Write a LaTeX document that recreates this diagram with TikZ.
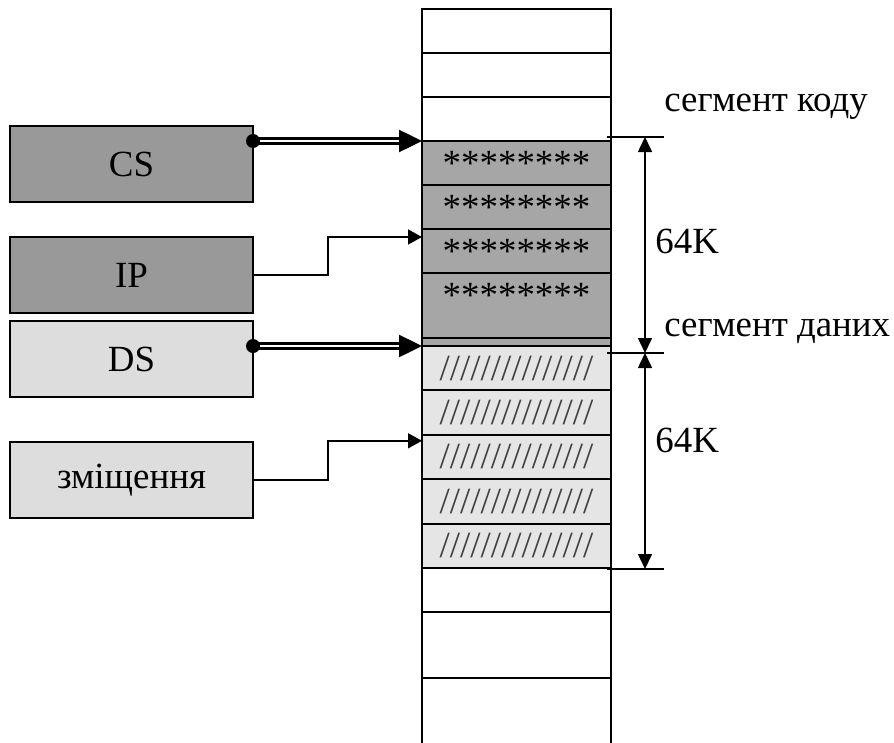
\documentclass[tikz,border=0pt]{standalone}
\usepackage{fontspec}
\setmainfont{Liberation Serif}
\usetikzlibrary{positioning, arrows.meta, calc}
\definecolor{codegray}{RGB}{166,166,166}
\definecolor{csgray}{RGB}{153,153,153}
\definecolor{datagray}{RGB}{229,229,229}
\definecolor{dsgray}{RGB}{221,221,221}
\tikzset{
  cell/.style={rectangle, draw, line width=1.2pt, minimum width=3.78cm,
    minimum height=0.88cm, inner sep=0pt, outer sep=0pt},
  codecell/.style={cell, fill=codegray},
  datacell/.style={cell, fill=datagray, minimum height=0.888cm, text=black!75},
  reg/.style={rectangle, draw, line width=1pt, minimum width=4.86cm,
    minimum height=1.52cm, inner sep=0pt, outer sep=0pt},
  segreg/.style={reg, fill=csgray},
  offreg/.style={reg, fill=dsgray},
  dblarrow/.style={double, double distance=1.2pt, line width=1.4pt,
    -{Triangle[length=0.46cm, width=0.44cm]}},
  thinarrow/.style={line width=0.9pt, -{Triangle[length=0.28cm, width=0.3cm]}},
  dimarrow/.style={line width=0.9pt,
    {Triangle[length=0.3cm, width=0.28cm]}-{Triangle[length=0.3cm, width=0.28cm]}},
  dimtick/.style={line width=0.9pt},
}

\begin{document}
\begin{tikzpicture}[font=\fontsize{21}{25}\selectfont]
  \useasboundingbox (0,0) rectangle (17.88,-14.84);

  % memory column
  \node[cell, anchor=north west] (m1) at (8.44,-0.18) {};
  \foreach \i [count=\j from 2] in {1,2}
    \node[cell, below=0pt of m\i] (m\j) {};
  \node[codecell, below=0pt of m3] (code1) {********};
  \node[codecell, below=0pt of code1] (code2) {********};
  \node[codecell, below=0pt of code2] (code3) {********};
  \node[codecell, minimum height=1.30cm, below=0pt of code3,
        label={[anchor=north, inner sep=0pt, yshift=-0.2cm]north:********}] (code4) {};
  \node[codecell, minimum height=0.16cm, below=0pt of code4] (gap) {};
  \node[datacell, below=0pt of gap] (data1) {///////////////};
  \foreach \i [count=\j from 2] in {1,...,4}
    \node[datacell, below=0pt of data\i] (data\j) {///////////////};
  \node[cell, below=0pt of data5] (m4) {};
  \node[cell, minimum height=1.32cm, below=0pt of m4] (m5) {};
  \draw[line width=1.2pt] (m5.south west) -- ++(0,-1.3)
                          (m5.south east) -- ++(0,-1.3);

  % registers
  \node[segreg] (cs) at (2.63,-3.28) {CS};
  \node[segreg, below=0.7cm of cs] (ip) {IP};
  \node[offreg, below=0.16cm of ip] (ds) {DS};
  \node[offreg, below=0.9cm of ds] (offs) {зміщення};

  \draw[dblarrow] (cs.east |- code1.north) -- (code1.north west);
  \fill (cs.east |- code1.north) circle (0.14);
  \draw[dblarrow] (ds.east |- data1.north) -- (data1.north west);
  \fill (ds.east |- data1.north) circle (0.14);
  \draw[thinarrow] (ip.east) -- ++(1.5,0) |- ($(code3.north west)+(0,-0.16)$);
  \draw[thinarrow] (offs.east) -- ++(1.5,0) |- ($(data3.north west)+(0,-0.12)$);

  % segment sizes
  \coordinate (dimA) at (12.9,-2.74);
  \coordinate (dimB) at (12.9,-7.06);
  \coordinate (dimC) at (12.9,-11.38);
  \foreach \c in {dimA,dimB,dimC}
    \draw[dimtick] (\c) ++(-0.76,0) -- ++(1.14,0);
  \draw[dimarrow] (dimA) -- (dimB);
  \draw[dimarrow] (dimB) -- (dimC);

  \node[anchor=base west, inner sep=0pt] (lblcode) at (13.28,-2.22) {сегмент коду};
  \node[anchor=base west, inner sep=0pt] (lbldata) at (13.28,-6.72) {сегмент даних};
  \node[anchor=base west, inner sep=0pt] (sizecode) at (13.1,-5.06) {64K};
  \node[anchor=base west, inner sep=0pt] (sizedata) at (13.1,-9.04) {64K};
\end{tikzpicture}
\end{document}
